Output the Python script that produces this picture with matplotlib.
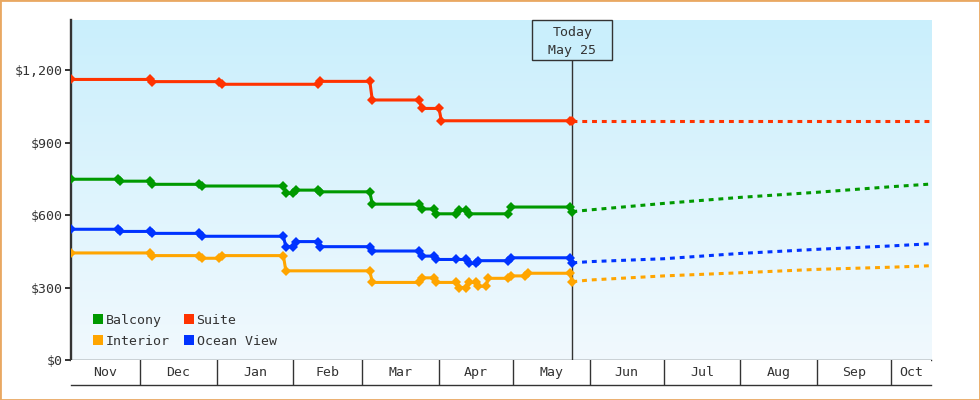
import matplotlib
matplotlib.use("Agg")
import matplotlib.pyplot as plt
import matplotlib.dates as mdates
import matplotlib.transforms as mtransforms
from matplotlib.patches import Rectangle
from matplotlib.lines import Line2D
from matplotlib.colors import LinearSegmentedColormap
from matplotlib.ticker import FuncFormatter
import numpy as np
import pandas as pd

plt.rcParams['font.family'] = ['DejaVu Sans Mono', 'DejaVu Sans']
plt.rcParams['font.size'] = 9.5
TXT = '#333333'

# ---------------- data ----------------
series_names = ['Balcony', 'Suite', 'Interior', 'Ocean View']
series_colors = ['#009900', '#ff3300', '#ffa500', '#0033ff']

balcony_dates = ['2024-11-03', '2024-11-22', '2024-11-23', '2024-12-05', '2024-12-06',
                 '2024-12-25', '2024-12-26', '2025-01-28', '2025-01-29', '2025-02-01',
                 '2025-02-02', '2025-02-11', '2025-02-12', '2025-03-04', '2025-03-05',
                 '2025-03-24', '2025-03-25', '2025-03-30', '2025-03-31', '2025-04-08',
                 '2025-04-09', '2025-04-12', '2025-04-13', '2025-04-29', '2025-04-30',
                 '2025-05-24', '2025-05-25']
balcony_prices = [748, 748, 740, 740, 727,
                  727, 720, 720, 690, 690,
                  703, 703, 696, 696, 645,
                  645, 625, 625, 605, 605,
                  620, 620, 605, 605, 633,
                  633, 614]

suite_dates = ['2024-11-03', '2024-12-05', '2024-12-06', '2025-01-02', '2025-01-03',
               '2025-02-11', '2025-02-12', '2025-03-04', '2025-03-05', '2025-03-24',
               '2025-03-25', '2025-04-01', '2025-04-02', '2025-05-24', '2025-05-25']
suite_prices = [1161, 1161, 1152, 1152, 1141,
                1141, 1153, 1153, 1076, 1076,
                1041, 1041, 990, 990, 990]

interior_dates = ['2024-11-03', '2024-12-05', '2024-12-06', '2024-12-25', '2024-12-26',
                  '2025-01-02', '2025-01-03', '2025-01-28', '2025-01-29', '2025-03-04',
                  '2025-03-05', '2025-03-24', '2025-03-25', '2025-03-30', '2025-03-31',
                  '2025-04-08', '2025-04-09', '2025-04-12', '2025-04-13', '2025-04-16',
                  '2025-04-17', '2025-04-20', '2025-04-21', '2025-04-29', '2025-04-30',
                  '2025-05-06', '2025-05-07', '2025-05-24', '2025-05-25']
interior_prices = [443, 443, 432, 432, 421,
                   421, 432, 432, 369, 369,
                   321, 321, 340, 340, 321,
                   321, 300, 300, 321, 321,
                   305, 305, 338, 338, 348,
                   348, 359, 359, 324]

ocean_dates = ['2024-11-03', '2024-11-22', '2024-11-23', '2024-12-05', '2024-12-06',
               '2024-12-25', '2024-12-26', '2025-01-28', '2025-01-29', '2025-02-01',
               '2025-02-02', '2025-02-11', '2025-02-12', '2025-03-04', '2025-03-05',
               '2025-03-24', '2025-03-25', '2025-03-30', '2025-03-31', '2025-04-08',
               '2025-04-12', '2025-04-13', '2025-04-16', '2025-04-17', '2025-04-29',
               '2025-04-30', '2025-05-24', '2025-05-25']
ocean_prices = [541, 541, 532, 532, 524,
                524, 512, 512, 469, 469,
                490, 490, 469, 469, 451,
                451, 430, 430, 416, 416,
                416, 400, 400, 411, 411,
                423, 423, 402]

forecast_dates = ['2025-05-25', '2025-06-01', '2025-07-01', '2025-08-01',
                  '2025-09-01', '2025-10-01', '2025-10-17']
balcony_forecast = [614, 621, 648, 673, 694, 717, 728]
suite_forecast = [990, 990, 990, 990, 990, 990, 990]
interior_forecast = [324, 331, 348, 361, 375, 384, 390]
ocean_forecast = [402, 407, 419, 441, 458, 472, 481]

today_date = '2025-05-25'
today_label = 'Today\nMay 25'
x_start = '2024-11-03T00:00'
x_end = '2025-10-17T06:00'
y_ticks = [0, 300, 600, 900, 1200]
y_max = 1407

history = [(balcony_dates, balcony_prices), (suite_dates, suite_prices),
           (interior_dates, interior_prices), (ocean_dates, ocean_prices)]
forecasts = [balcony_forecast, suite_forecast, interior_forecast, ocean_forecast]

# ---------------- figure ----------------
W, H = 980, 400
fig = plt.figure(figsize=(W / 100, H / 100), dpi=100)
fig.patch.set_facecolor('white')

L, T, R, B = 71, 20, 931, 360
ax = fig.add_axes([L / W, (H - B) / H, (R - L) / W, (B - T) / H])
band = fig.add_axes([L / W, (H - 385) / H, (R - L) / W, 25 / H], sharex=ax)

# background gradient
top_col, bot_col = '#caeffc', '#f1f9fe'
cmap = LinearSegmentedColormap.from_list('bg', [top_col, bot_col])
ax.imshow(np.linspace(0, 1, 256).reshape(-1, 1), cmap=cmap, aspect='auto',
          extent=[0, 1, 0, 1], transform=ax.transAxes, origin='upper', zorder=0)

xs = np.datetime64(x_start)
xe = np.datetime64(x_end)

for (d, p), f, c in zip(history, forecasts, series_colors):
    dd = np.array(d, dtype='datetime64[D]')
    ax.plot(dd, p, color=c, lw=2.2, marker='D', markersize=4.9,
            markeredgewidth=0, zorder=4)
    fd = np.array(forecast_dates, dtype='datetime64[D]')
    ax.plot(fd, f, color=c, lw=2.2, linestyle=(0, (1.6, 1.6)), zorder=3)

ax.set_xlim(xs, xe)
ax.set_ylim(0, y_max)

# spines / ticks
for s in ['top', 'right']:
    ax.spines[s].set_visible(False)
ax.spines['left'].set_color(TXT)
ax.spines['left'].set_linewidth(1.7)
ax.spines['bottom'].set_color(TXT)
ax.spines['bottom'].set_linewidth(1.0)
ax.set_yticks(y_ticks)
ax.yaxis.set_major_formatter(FuncFormatter(lambda v, _: f"${v:,.0f}"))
ax.tick_params(axis='y', length=4.3, width=1.4, color=TXT, labelcolor=TXT,
               labelsize=9.5, pad=2)
ax.tick_params(axis='x', which='both', bottom=False, labelbottom=False)

# today marker
today = np.datetime64(today_date)
tx = mdates.date2num(today)
box_h_px = 40
ax.axvline(today, ymin=0, ymax=1 - box_h_px / (B - T), color=TXT, lw=1.0, zorder=2)
offset = mtransforms.ScaledTranslation(tx, 1.0, ax.get_xaxis_transform())
ax.add_patch(Rectangle((-0.4, -box_h_px / 100), 0.8, box_h_px / 100,
                       transform=fig.dpi_scale_trans + offset,
                       facecolor=top_col, edgecolor=TXT, lw=1.0, zorder=6,
                       clip_on=False))
line1, line2 = today_label.split('\n')
ax.annotate(line1, xy=(tx, 1), xycoords=ax.get_xaxis_transform(),
            xytext=(0, -9.1), textcoords='offset points', ha='center', va='center',
            color=TXT, fontsize=9.5, zorder=7)
ax.annotate(line2, xy=(tx, 1), xycoords=ax.get_xaxis_transform(),
            xytext=(0, -21.8), textcoords='offset points', ha='center', va='center',
            color=TXT, fontsize=9.5, zorder=7)

# legend
order = [0, 2, 1, 3]
handles = [Line2D([], [], marker='s', linestyle='none', markersize=7.8,
                  markerfacecolor=series_colors[i], markeredgewidth=0) for i in order]
labels = [series_names[i] for i in order]
leg = ax.legend(handles, labels, ncol=2, loc='lower left',
                bbox_to_anchor=(0.024, 0.036), frameon=False, borderpad=0,
                borderaxespad=0, handlelength=0.9, handletextpad=0.15,
                columnspacing=1.0, labelspacing=0.58, fontsize=9.5)
for t in leg.get_texts():
    t.set_color(TXT)

# month band
month_starts = np.arange(np.datetime64('2024-12'), np.datetime64('2025-11'),
                         dtype='datetime64[M]').astype('datetime64[m]')
bounds = [xs.astype('datetime64[m]')] + list(month_starts) + [xe.astype('datetime64[m]')]
mids = [a + (b - a) / 2 for a, b in zip(bounds[:-1], bounds[1:])]
month_labels = [pd.Timestamp(b).strftime('%b') for b in bounds[:-1]]

band.set_ylim(0, 1)
band.set_facecolor('white')
for s in ['left', 'right', 'top']:
    band.spines[s].set_visible(False)
band.spines['bottom'].set_color(TXT)
band.spines['bottom'].set_linewidth(1.0)
for m in month_starts:
    band.axvline(m, color=TXT, lw=1.0)
for m, lab in zip(mids, month_labels):
    band.text(m, 0.5, lab, ha='center', va='center', color=TXT, fontsize=9.5)
band.set_yticks([])
band.tick_params(axis='x', which='both', bottom=False, labelbottom=False)
band.set_xlim(xs, xe)

# outer border
fig.patches.append(Rectangle((0, 0), 1, 1, transform=fig.transFigure, fill=False,
                             edgecolor='#e9a862', lw=2.0, zorder=10))

fig.savefig('out.png', dpi=100)
